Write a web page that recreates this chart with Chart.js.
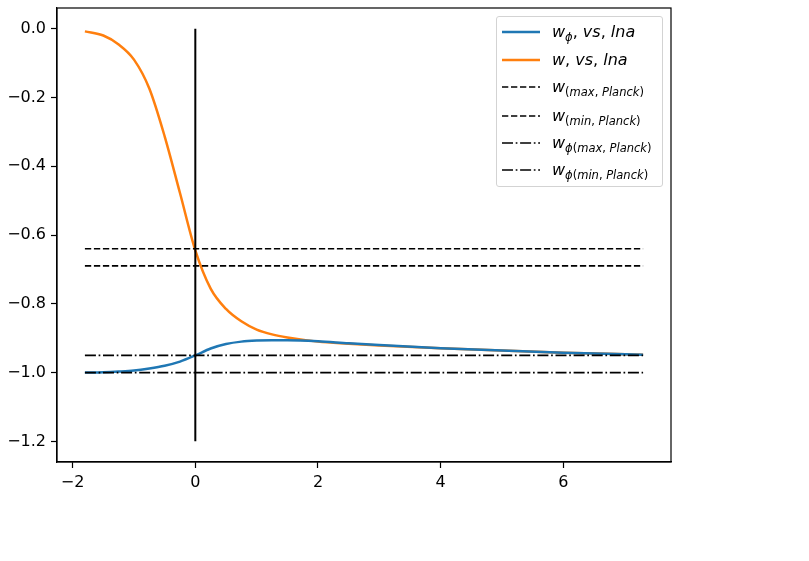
<!DOCTYPE html>
<html>
<head>
<meta charset="utf-8">
<script src="https://cdn.jsdelivr.net/npm/chart.js@4/dist/chart.umd.min.js"></script>
<style>
  html, body { margin:0; padding:0; background:#fff; }
  #wrap { position:relative; width:809px; height:561px; }
  #legend { position:absolute; left:496px; top:16px; width:167px; height:171px;
            border:1px solid #d3d3d3; border-radius:3px; background:rgba(255,255,255,0.85);
            font-family:'DejaVu Sans', sans-serif; color:#000; box-sizing:border-box; }
  .row { position:absolute; left:0; height:20px; width:100%; }
  .row svg { position:absolute; left:5px; top:3px; }
  .lab { position:absolute; left:55px; top:0; font-style:italic; font-size:16px; line-height:20px; white-space:nowrap; }
  .lab sub { font-size:11.5px; vertical-align:-4px; line-height:0; }
  .up { font-style:normal; }
</style>
</head>
<body>
<div id="wrap">
  <canvas id="c" width="809" height="561"></canvas>
  <div id="legend">
    <div class="row" style="top:5px"><svg width="40" height="14"><line x1="0" y1="7" x2="38" y2="7" stroke="#1f77b4" stroke-width="2.5"/></svg><span class="lab">w<sub>ϕ</sub><span class="up">,</span> vs<span class="up">,</span> lna</span></div>
    <div class="row" style="top:33px"><svg width="40" height="14"><line x1="0" y1="7" x2="38" y2="7" stroke="#ff7f0e" stroke-width="2.5"/></svg><span class="lab">w<span class="up">,</span> vs<span class="up">,</span> lna</span></div>
    <div class="row" style="top:60px"><svg width="40" height="14"><line x1="0" y1="7" x2="38" y2="7" stroke="#000" stroke-width="1.7" stroke-dasharray="6.3,2.7"/></svg><span class="lab">w<sub><span class="up">(</span>max<span class="up">,</span> Planck<span class="up">)</span></sub></span></div>
    <div class="row" style="top:89px"><svg width="40" height="14"><line x1="0" y1="7" x2="38" y2="7" stroke="#000" stroke-width="1.7" stroke-dasharray="6.3,2.7"/></svg><span class="lab">w<sub><span class="up">(</span>min<span class="up">,</span> Planck<span class="up">)</span></sub></span></div>
    <div class="row" style="top:116px"><svg width="40" height="14"><line x1="0" y1="7" x2="38" y2="7" stroke="#000" stroke-width="1.7" stroke-dasharray="11,2.7,1.7,2.7"/></svg><span class="lab">w<sub>ϕ<span class="up">(</span>max<span class="up">,</span> Planck<span class="up">)</span></sub></span></div>
    <div class="row" style="top:143px"><svg width="40" height="14"><line x1="0" y1="7" x2="38" y2="7" stroke="#000" stroke-width="1.7" stroke-dasharray="11,2.7,1.7,2.7"/></svg><span class="lab">w<sub>ϕ<span class="up">(</span>min<span class="up">,</span> Planck<span class="up">)</span></sub></span></div>
  </div>
</div>
<script>
// ---- data ----
const lna = [-1.8, -1.5, -1.25, -1.0, -0.75, -0.5, -0.25, 0, 0.25, 0.5, 0.75, 1.0, 1.25, 1.5, 2.0, 2.5, 3.0, 4.0, 5.0, 6.0, 7.3];
const wTotal = [-0.008, -0.020, -0.046, -0.090, -0.174, -0.313, -0.478, -0.645, -0.756, -0.815, -0.851, -0.875, -0.889, -0.898, -0.910, -0.916, -0.921, -0.929, -0.936, -0.942, -0.948];
const wPhi = [-1.000, -0.999, -0.997, -0.994, -0.988, -0.980, -0.968, -0.950, -0.930, -0.917, -0.910, -0.907, -0.906, -0.906, -0.909, -0.915, -0.920, -0.929, -0.936, -0.942, -0.948];
const wMaxPlanck = -0.64;
const wMinPlanck = -0.69;
const wPhiMaxPlanck = -0.95;
const wPhiMinPlanck = -1.0;
const vLineX = 0;
const vLineY = [0, -1.2];
const xTicks = [-2, 0, 2, 4, 6];
const yTicks = [0, -0.2, -0.4, -0.6, -0.8, -1.0, -1.2];

const xStart = lna[0], xEnd = lna[lna.length - 1];
const pts = (xs, ys) => xs.map((x, i) => ({x, y: ys[i]}));
const hline = v => [{x: xStart, y: v}, {x: xEnd, y: v}];
const minus = s => s.replace('-', '\u2212');

const frame = {
  id: 'frame',
  afterDraw(chart) {
    const {ctx, chartArea: a} = chart;
    ctx.save();
    ctx.strokeStyle = '#000';
    ctx.lineWidth = 1.2;
    ctx.strokeRect(a.left, a.top, a.right - a.left, a.bottom - a.top);
    ctx.restore();
  }
};

const font = {family: "'DejaVu Sans'", size: 16};
const dash = [6.3, 2.7], dashDot = [11, 2.7, 1.7, 2.7];
new Chart(document.getElementById('c'), {
  type: 'line',
  data: {
    datasets: [
      {data: hline(wMaxPlanck), borderColor: '#000', borderWidth: 1.7, borderDash: dash, order: 2},
      {data: hline(wMinPlanck), borderColor: '#000', borderWidth: 1.7, borderDash: dash, order: 2},
      {data: hline(wPhiMaxPlanck), borderColor: '#000', borderWidth: 1.7, borderDash: dashDot, order: 2},
      {data: hline(wPhiMinPlanck), borderColor: '#000', borderWidth: 1.7, borderDash: dashDot, order: 2},
      {data: pts(lna, wPhi), borderColor: '#1f77b4', borderWidth: 2.5, cubicInterpolationMode: 'monotone', order: 3},
      {data: pts(lna, wTotal), borderColor: '#ff7f0e', borderWidth: 2.5, cubicInterpolationMode: 'monotone', order: 3},
      {data: vLineY.map(y => ({x: vLineX, y})), borderColor: '#000', borderWidth: 2, order: 1}
    ]
  },
  options: {
    responsive: false,
    animation: false,
    devicePixelRatio: 1,
    elements: {point: {radius: 0}},
    layout: {padding: {left: 0, top: 8, right: 138, bottom: 0}},
    plugins: {legend: {display: false}, tooltip: {enabled: false}},
    scales: {
      x: {
        type: 'linear', min: -2.255, max: 7.755,
        afterBuildTicks: ax => { ax.ticks = xTicks.map(v => ({value: v})); },
        afterFit: ax => { ax.height = 99; ax.paddingLeft = 0; ax.paddingRight = 0; },
        ticks: {color: '#000', font, padding: 5, maxRotation: 0, callback: v => minus(String(v))},
        grid: {drawOnChartArea: false, drawTicks: true, tickLength: 6, tickColor: '#000', tickWidth: 1.2},
        border: {display: true, color: '#000', width: 1.2}
      },
      y: {
        type: 'linear', min: -1.26, max: 0.06,
        afterBuildTicks: ax => { ax.ticks = yTicks.map(v => ({value: v})); },
        afterFit: ax => { ax.width = 57; ax.paddingTop = 0; ax.paddingBottom = 0; },
        ticks: {color: '#000', font, padding: 5, callback: v => minus(Number(v).toFixed(1))},
        grid: {drawOnChartArea: false, drawTicks: true, tickLength: 6, tickColor: '#000', tickWidth: 1.2},
        border: {display: true, color: '#000', width: 1.2}
      }
    }
  },
  plugins: [frame]
});
</script>
</body>
</html>
